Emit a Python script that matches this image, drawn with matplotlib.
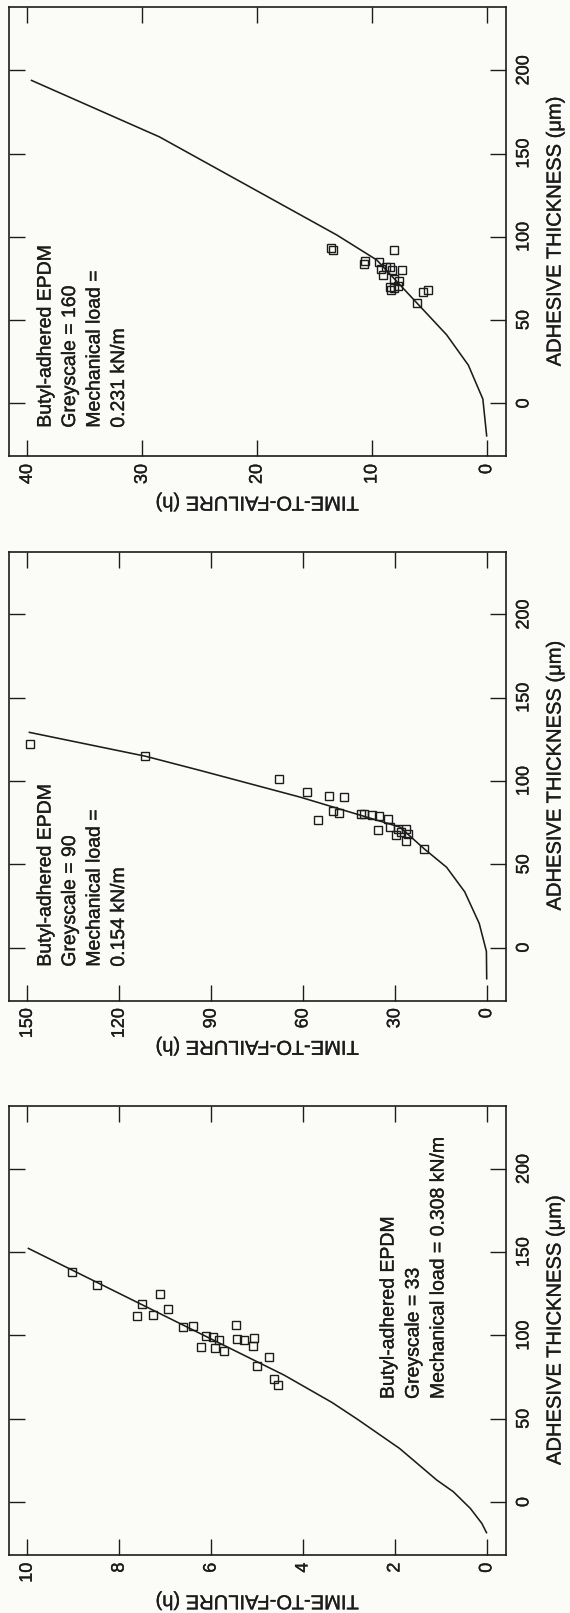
import matplotlib
matplotlib.use("Agg")
import matplotlib.pyplot as plt
import matplotlib.patheffects as pe

plt.rcParams["font.family"] = ["Liberation Sans", "DejaVu Sans"]

BG = "#fbfbf7"
INK = "#1c1c1c"

# ---- Greyscale 33, load 0.308 kN/m ----
time_g33 = [9.03, 8.49, 7.11, 7.51, 6.94, 7.61, 7.26, 6.60, 6.40, 6.11, 5.95, 5.82,
            6.23, 5.91, 5.72, 5.46, 5.44, 5.29, 5.07, 5.09, 5.00, 4.75, 4.63, 4.55]
thick_g33 = [138.0, 130.3, 124.9, 119.1, 115.9, 111.9, 112.5, 105.3, 105.5, 99.7, 99.3, 97.3,
             93.3, 92.3, 90.7, 106.5, 97.9, 97.1, 98.5, 93.5, 81.9, 87.0, 73.9, 70.0]
fit_thick_g33 = [-18.8, -12.8, -3.8, 6.2, 13.2, 32.2, 49.6, 59.8, 76.2, 82.9, 97.8, 144.3, 152.5]
fit_time_g33 = [0.0, 0.11, 0.36, 0.73, 1.09, 1.90, 2.81, 3.37, 4.41, 4.90, 5.99, 9.39, 9.99]

# ---- Greyscale 90, load 0.154 kN/m ----
time_g90 = [149.1, 111.5, 67.9, 58.6, 51.6, 46.6, 55.2, 50.1, 48.3, 41.0, 40.0, 37.5,
            35.2, 32.3, 35.6, 31.6, 29.7, 28.9, 26.2, 28.0, 25.6, 26.5, 20.5]
thick_g90 = [122.3, 114.9, 100.9, 93.3, 90.7, 90.3, 76.3, 81.9, 80.9, 80.3, 80.3, 79.7,
             78.9, 77.3, 70.3, 72.3, 67.7, 71.3, 71.4, 69.3, 68.2, 64.0, 59.4]
fit_thick_g90 = [-19.2, -2.3, 14.5, 33.5, 48.2, 59.4, 72.3, 90.3, 106.3, 114.9, 129.3]
fit_time_g90 = [0.0, 0.1, 2.45, 7.2, 13.1, 20.5, 28.3, 60.9, 93.5, 111.5, 149.6]

# ---- Greyscale 160, load 0.231 kN/m ----
time_g160 = [13.4, 13.6, 10.6, 10.7, 9.36, 9.20, 9.04, 8.79, 8.41, 8.25, 8.09, 8.09,
             7.71, 7.39, 7.62, 8.3, 8.1, 8.4, 6.06, 5.56, 5.09]
thick_g160 = [92.0, 93.2, 85.6, 83.4, 84.9, 80.8, 76.8, 81.8, 81.8, 79.8, 92.0, 74.7,
              70.6, 79.8, 73.7, 68.0, 69.0, 70.0, 60.1, 66.6, 68.0]
fit_thick_g160 = [-20.0, 2.6, 22.9, 41.2, 60.1, 86.1, 101.1, 160.0, 194.1]
fit_time_g160 = [0.0, 0.34, 1.6, 3.5, 6.06, 9.58, 13.06, 28.5, 39.7]

thick_ticks = [0, 50, 100, 150, 200]
time_ticks_g33 = [0, 2, 4, 6, 8, 10]
time_ticks_g90 = [0, 30, 60, 90, 120, 150]
time_ticks_g160 = [0, 10, 20, 30, 40]

notes_g33 = ["Butyl-adhered EPDM", "Greyscale = 33", "Mechanical load = 0.308 kN/m"]
notes_g90 = ["Butyl-adhered EPDM", "Greyscale = 90", "Mechanical load =", "0.154 kN/m"]
notes_g160 = ["Butyl-adhered EPDM", "Greyscale = 160", "Mechanical load =", "0.231 kN/m"]

thick_label = "ADHESIVE THICKNESS (\u03bcm)"
time_label = "TIME-TO-FAILURE (h)"

W, H = 570, 1613
fig = plt.figure(figsize=(W / 100, H / 100), dpi=100)
fig.patch.set_facecolor(BG)

AX_LEFT, AX_RIGHT, AX_H = 9.3, 505.7, 449.0

# slightly heavier strokes for the lettering
HEAVY = [pe.withStroke(linewidth=0.25, foreground=INK)]


def make_axes(top_px):
    return fig.add_axes([AX_LEFT / W, (H - top_px - AX_H) / H,
                         (AX_RIGHT - AX_LEFT) / W, AX_H / H])


def draw_panel(ax, t, th, ft, fth, tticks, tlim, notes, note_x, note_y):
    ax.set_facecolor(BG)
    ax.plot(ft, fth, color=INK, lw=1.15, solid_capstyle="butt")
    ax.plot(t, th, ls="none", marker="s", mfc="none", mec=INK, ms=5.6, mew=1.0)
    ax.set_xlim(*tlim)
    ax.set_ylim(-31.8, 237.8)
    ax.set_xticks(tticks)
    ax.set_yticks(thick_ticks)
    for sp in ax.spines.values():
        sp.set_linewidth(1.2)
        sp.set_color(INK)
    ax.tick_params(direction="in", length=11.5, width=1.0, colors=INK,
                   top=True, right=True, labelleft=False, labelright=True,
                   labelsize=13)
    ax.tick_params(axis="x", pad=5.5)
    ax.tick_params(axis="y", pad=7.0)
    for lbl in ax.get_xticklabels():
        lbl.set_rotation(90)
        lbl.set_va("top")
        lbl.set_ha("center")
        lbl.set_path_effects(HEAVY)
    for lbl in ax.get_yticklabels():
        lbl.set_rotation(90)
        lbl.set_va("center")
        lbl.set_ha("left")
        lbl.set_path_effects(HEAVY)
    ax.text(1.0993, 0.5, thick_label, transform=ax.transAxes, rotation=90,
            ha="center", va="center", fontsize=14.5, color=INK, path_effects=HEAVY)
    ax.text(0.5, -0.1024, time_label, transform=ax.transAxes, rotation=180,
            ha="center", va="center", fontsize=14.5, color=INK, path_effects=HEAVY)
    for xf, s in zip(note_x, notes):
        ax.text(xf, note_y, s, transform=ax.transAxes, rotation=90,
                ha="center", va="bottom", fontsize=14, color=INK, path_effects=HEAVY)


def frac(px):
    return (px - AX_LEFT) / (AX_RIGHT - AX_LEFT)


ax3 = make_axes(7.3)
draw_panel(ax3, time_g160, thick_g160, fit_time_g160, fit_thick_g160,
           time_ticks_g160, (41.57, -1.65), notes_g160,
           [frac(46), frac(70.5), frac(95), frac(119.5)], 0.0637)

ax2 = make_axes(551.5)
draw_panel(ax2, time_g90, thick_g90, fit_time_g90, fit_thick_g90,
           time_ticks_g90, (155.9, -6.2), notes_g90,
           [frac(46), frac(70.5), frac(95), frac(119.5)], 0.0753)

ax1 = make_axes(1106.0)
draw_panel(ax1, time_g33, thick_g33, fit_time_g33, fit_thick_g33,
           time_ticks_g33, (10.39, -0.41), notes_g33,
           [frac(389), frac(414), frac(439)], 0.3474)

fig.savefig("out.png", dpi=100, facecolor=BG)
